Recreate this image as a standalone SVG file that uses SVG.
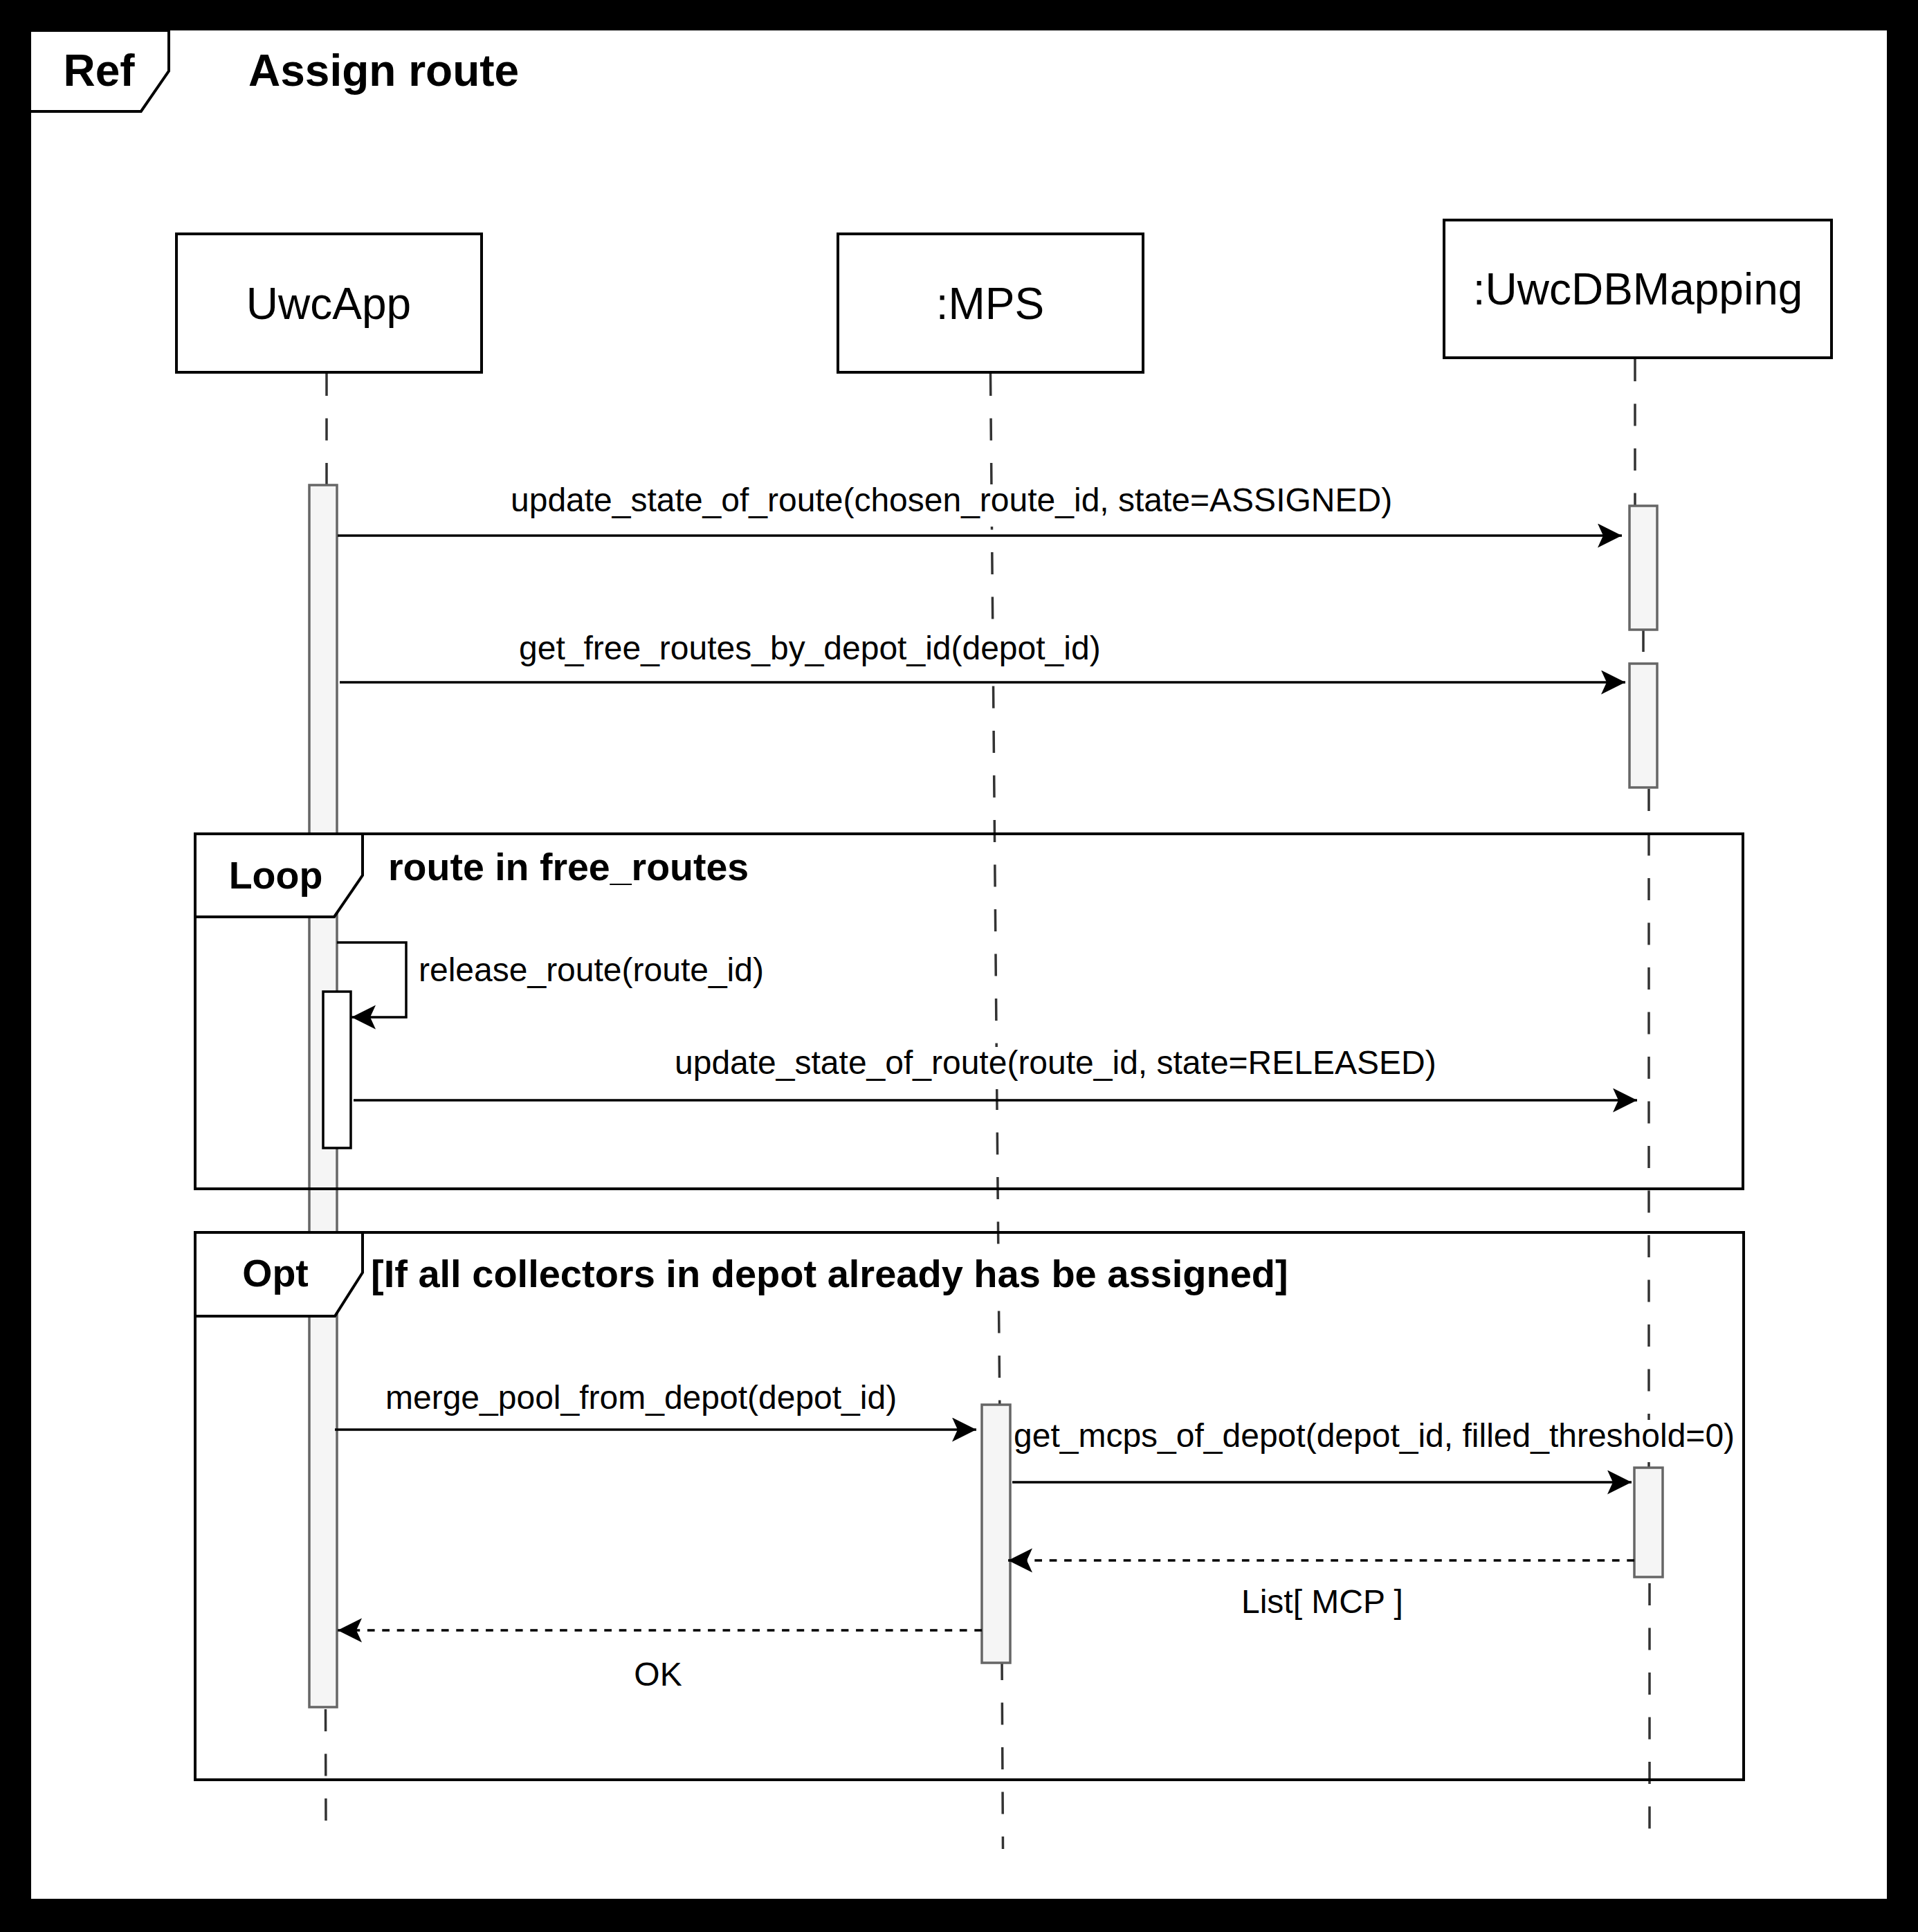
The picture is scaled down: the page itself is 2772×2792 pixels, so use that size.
<svg xmlns="http://www.w3.org/2000/svg" width="2772" height="2792" viewBox="0 0 2772 2792">
<defs>
<style>
.t{font-family:"Liberation Sans",Arial,Helvetica,sans-serif;fill:#000}
.lbl{font-size:48px}
.hdr{font-size:64px}
.fh{font-size:55.5px;font-weight:bold}
.b{font-weight:bold}
.c{text-anchor:middle}
.fr{fill:none;stroke:#000;stroke-width:4}
.pent{fill:#fff;stroke:#000;stroke-width:4;stroke-linejoin:miter}
.box{fill:#fff;stroke:#000;stroke-width:4}
.act{fill:#f5f5f5;stroke:#666;stroke-width:3.5}
.ll{stroke:#333;stroke-width:3.5;stroke-dasharray:32 32.5;fill:none}
.msg{stroke:#000;stroke-width:3.5;fill:none;marker-end:url(#arr)}
.ret{stroke:#000;stroke-width:3.5;fill:none;stroke-dasharray:10.7 10.7;marker-end:url(#arr)}
.bg{fill:#fff}
</style>
<marker id="arr" markerUnits="userSpaceOnUse" markerWidth="36" markerHeight="36" viewBox="0 0 36 36" refX="35" refY="17.5" orient="auto"><path d="M0,0 L35,17.5 L0,35 L8,17.5 Z" fill="#000"/></marker>
</defs>
<rect width="2772" height="2792" fill="#000"/>
<rect x="45" y="44" width="2682" height="2700" fill="#fff"/>
<g id="ref-frame">
<path class="pent" d="M45,44 H244 V102.6 L203.8,161 H45"/>
<text class="t hdr b c" x="143" y="124">Ref</text>
<text class="t hdr b" x="359" y="124">Assign route</text>
</g>
<g id="lifelines">
<line class="ll" x1="472" y1="540" x2="472" y2="701"/>
<line class="ll" x1="470.5" y1="2470" x2="471" y2="2632"/>
<line class="ll" x1="1431.5" y1="540" x2="1444.8" y2="2029"/>
<line class="ll" x1="1448" y1="2396" x2="1449.5" y2="2672"/>
<line class="ll" x1="2363" y1="519" x2="2363" y2="731"/>
<line class="ll" x1="2375" y1="910" x2="2375" y2="958"/>
<line class="ll" x1="2383" y1="1140" x2="2383" y2="2121"/>
<line class="ll" x1="2384" y1="2288" x2="2384" y2="2648"/>
</g>
<g id="uwcapp">
<rect class="box" x="255" y="338" width="441" height="200"/>
<text class="t hdr c" x="475" y="461">UwcApp</text>
<rect class="act" x="447" y="701" width="40" height="1766"/>
</g>
<g id="mps">
<rect class="box" x="1211" y="338" width="441" height="200"/>
<text class="t hdr c" x="1431" y="461">:MPS</text>
<rect class="act" x="1419" y="2030" width="41" height="373"/>
</g>
<g id="uwcdbmapping">
<rect class="box" x="2087" y="318" width="560" height="199"/>
<text class="t hdr c" x="2367" y="440">:UwcDBMapping</text>
<rect class="act" x="2355" y="731" width="40" height="179"/>
<rect class="act" x="2355" y="959" width="40" height="179"/>
<rect class="act" x="2362" y="2121" width="41" height="158"/>
</g>
<g id="loop-frame">
<rect class="fr" x="282" y="1205" width="2237" height="513"/>
<path class="pent" d="M282,1205 H524 V1265 L483,1325 H282 Z"/>
<text class="t fh c" x="398.5" y="1284">Loop</text>
<text class="t fh" x="561" y="1272">route in free_routes</text>
</g>
<g id="opt-frame">
<rect class="fr" x="282" y="1781" width="2238" height="791"/>
<path class="pent" d="M282,1781 H524 V1839 L484,1902 H282 Z"/>
<text class="t fh c" x="398" y="1859">Opt</text>
<rect class="bg" x="534" y="1815" width="1330" height="70"/>
<text class="t b" style="font-size:56px" x="536" y="1860">[If all collectors in depot already has be assigned]</text>
</g>
<g id="uwcapp-nested-activation">
<rect x="467" y="1433" width="40" height="226" fill="#fff" stroke="#000" stroke-width="3.5"/>
</g>
<g id="connectors">
<path class="msg" d="M488,774 H2344"/>
<rect class="bg" x="736" y="700" width="1278" height="61"/>
<text class="t lbl" x="738" y="739">update_state_of_route(chosen_route_id, state=ASSIGNED)</text>
<path class="msg" d="M491,986 H2349"/>
<rect class="bg" x="748" y="914" width="842" height="61"/>
<text class="t lbl" x="750" y="953">get_free_routes_by_depot_id(depot_id)</text>
<path class="msg" d="M487,1362 H587 V1470 H508"/>
<text class="t lbl" x="605" y="1418">release_route(route_id)</text>
<path class="msg" d="M511,1590 H2366"/>
<rect class="bg" x="972" y="1513" width="1102" height="61"/>
<text class="t lbl" x="975" y="1552">update_state_of_route(route_id, state=RELEASED)</text>
<path class="msg" d="M484,2066 H1411"/>
<text class="t lbl" x="557" y="2036">merge_pool_from_depot(depot_id)</text>
<path class="msg" d="M1463,2142 H2358"/>
<rect class="bg" x="1463" y="2052" width="1044" height="61"/>
<text class="t lbl" x="1465" y="2091">get_mcps_of_depot(depot_id, filled_threshold=0)</text>
<path class="ret" d="M2362,2255 H1457"/>
<text class="t lbl" x="1794" y="2331">List[ MCP ]</text>
<path class="ret" d="M1419,2356 H488"/>
<text class="t lbl c" x="951" y="2436">OK</text>
</g>
</svg>
